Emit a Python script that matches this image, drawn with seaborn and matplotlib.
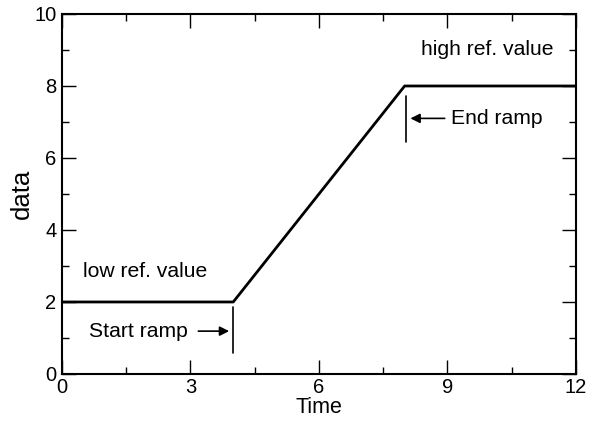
import pandas as pd
import matplotlib.pyplot as plt
import seaborn as sns
from matplotlib.ticker import MultipleLocator

# ramp profile
time = [0, 4, 8, 12]
data = [2, 2, 8, 8]
df = pd.DataFrame({'Time': time, 'data': data})

sns.set_style('ticks', {'axes.edgecolor': 'black', 'text.color': 'black',
                        'axes.labelcolor': 'black', 'xtick.color': 'black',
                        'ytick.color': 'black'})
plt.rcParams['font.family'] = ['Liberation Sans', 'DejaVu Sans']

fig = plt.figure(figsize=(5.89, 4.24), dpi=100)
ax = fig.add_axes([0.105, 0.118, 0.873, 0.849])
sns.lineplot(data=df, x='Time', y='data', color='black', linewidth=2, ax=ax)

ax.set_xlim(0, 12)
ax.set_ylim(0, 10)
ax.xaxis.set_major_locator(MultipleLocator(3))
ax.xaxis.set_minor_locator(MultipleLocator(1.5))
ax.yaxis.set_major_locator(MultipleLocator(2))
ax.yaxis.set_minor_locator(MultipleLocator(1))
ax.tick_params(which='both', direction='in', top=True, right=True, labelsize=14.5)
ax.tick_params(which='major', length=10, width=1)
ax.tick_params(which='minor', length=5, width=1)
ax.tick_params(axis='x', pad=3)
ax.tick_params(axis='y', pad=4)
for s in ax.spines.values():
    s.set_linewidth(1.5)
ax.set_xlabel('Time', fontsize=15.5, labelpad=0)
ax.set_ylabel('data', fontsize=18.5, labelpad=0)

# annotations
ax.text(0.49, 2.86, 'low ref. value', fontsize=15.2, va='center')
ax.text(9.93, 9.0, 'high ref. value', fontsize=15.2, va='center', ha='center')

ax.plot([4, 4], [0.58, 1.86], color='black', lw=1.2)
ax.annotate('', xy=(3.97, 1.19), xytext=(3.12, 1.19),
            arrowprops=dict(arrowstyle='-|>', color='black', lw=1.2, mutation_scale=14))
ax.text(2.95, 1.19, 'Start ramp', fontsize=15.2, va='center', ha='right')

ax.plot([8.04, 8.04], [6.44, 7.72], color='black', lw=1.2)
ax.annotate('', xy=(8.07, 7.1), xytext=(9.0, 7.1),
            arrowprops=dict(arrowstyle='-|>', color='black', lw=1.2, mutation_scale=14))
ax.text(9.08, 7.1, 'End ramp', fontsize=15.2, va='center', ha='left')

plt.savefig('out.png', dpi=100)
